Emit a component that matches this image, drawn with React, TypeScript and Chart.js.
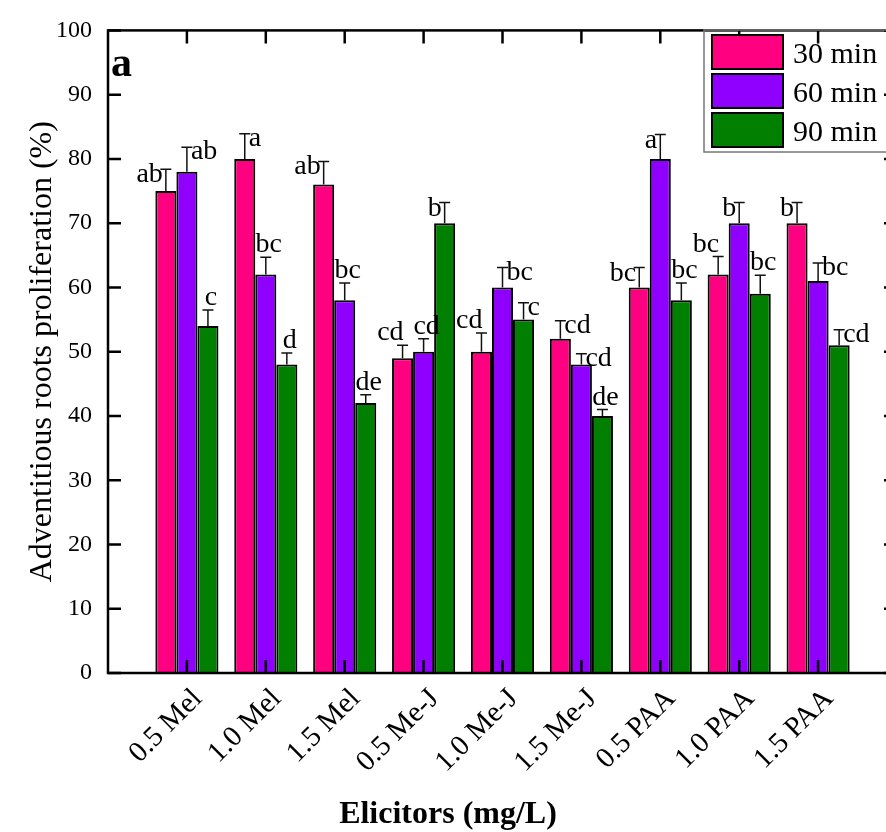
import React, { useEffect, useRef } from 'react';
import { Chart, registerables } from 'chart.js';

Chart.register(...registerables);

// ---------- data ----------
const categories = ['0.5 Mel', '1.0 Mel', '1.5 Mel', '0.5 Me-J', '1.0 Me-J', '1.5 Me-J', '0.5 PAA', '1.0 PAA', '1.5 PAA'];
const seriesNames = ['30 min', '60 min', '90 min'];
const values30 = [75, 80, 76, 49, 50, 52, 60, 62, 70];
const values60 = [78, 62, 58, 50, 60, 48, 80, 70, 61];
const values90 = [54, 48, 42, 70, 55, 40, 58, 59, 51];
const errors30 = [3.4, 3.9, 3.6, 2.0, 2.9, 2.8, 3.1, 2.8, 3.2];
const errors60 = [3.8, 2.7, 2.7, 2.0, 3.1, 1.7, 3.8, 3.2, 2.8];
const errors90 = [2.5, 1.8, 1.3, 3.2, 2.6, 1.0, 2.7, 2.9, 2.4];
const letters30 = ['ab', 'a', 'ab', 'cd', 'cd', 'cd', 'bc', 'bc', 'b'];
const letters60 = ['ab', 'bc', 'bc', 'cd', 'bc', 'cd', 'a', 'b', 'bc'];
const letters90 = ['c', 'd', 'de', 'b', 'c', 'de', 'bc', 'bc', 'cd'];
const yTickValues = [0, 10, 20, 30, 40, 50, 60, 70, 80, 90, 100];
const yAxisTitle = 'Adventitious roots proliferation (%)';
const xAxisTitle = 'Elicitors (mg/L)';
const panelLabel = 'a';

// ---------- styling (placement of the letter labels relative to the error-bar cap) ----------
const place30 = ['L', 'R', 'L', 'TL', 'TL', 'R', 'L', 'TL', 'L'];
const place60 = ['R', 'T', 'T', 'T', 'R', 'R', 'L', 'L', 'R'];
const place90 = ['T', 'T', 'T', 'L', 'R', 'T', 'T', 'T', 'R'];
const colors = ['#FF0080', '#8F00FF', '#007F00'];
const FONT = "'Liberation Serif', 'Times New Roman', serif";

const allValues = [values30, values60, values90];
const allErrors = [errors30, errors60, errors90];
const allLetters = [letters30, letters60, letters90];
const allPlace = [place30, place60, place90];

const paddedLabels = ['', ...categories, ''];
const pad = (arr: number[]) => [null, ...arr, null];

const decor = {
  id: 'decor',
  afterDatasetsDraw(chart: any) {
    const { ctx, scales } = chart;
    const y = scales.y;
    ctx.save();
    chart.data.datasets.forEach((ds: any, i: number) => {
      const meta = chart.getDatasetMeta(i);
      categories.forEach((_c, j) => {
        const bar = meta.data[j + 1];
        if (!bar) return;
        const v = allValues[i][j];
        const e = allErrors[i][j];
        const top = y.getPixelForValue(v);
        const cap = y.getPixelForValue(v + e);
        ctx.strokeStyle = '#111';
        ctx.lineWidth = 1.5;
        ctx.beginPath();
        ctx.moveTo(bar.x, top);
        ctx.lineTo(bar.x, cap);
        ctx.moveTo(bar.x - 5.5, cap);
        ctx.lineTo(bar.x + 5.5, cap);
        ctx.stroke();
        const p = allPlace[i][j];
        ctx.fillStyle = '#000';
        ctx.font = `28px ${FONT}`;
        ctx.textBaseline = 'alphabetic';
        let tx = bar.x;
        let ty = cap;
        if (p === 'L') { ctx.textAlign = 'right'; tx = bar.x - 3; ty = cap + 13; }
        else if (p === 'R') { ctx.textAlign = 'left'; tx = bar.x + 4; ty = cap + 12; }
        else if (p === 'TL') { ctx.textAlign = 'right'; tx = bar.x + 1; ty = cap - 5; }
        else { ctx.textAlign = 'center'; tx = bar.x + 3; ty = cap - 5; }
        ctx.fillText(allLetters[i][j], tx, ty);
      });
    });
    ctx.restore();
  },
  afterDraw(chart: any) {
    const { ctx, chartArea: a, scales } = chart;
    const { x, y } = scales;
    ctx.save();
    ctx.strokeStyle = '#000';
    ctx.lineWidth = 2.5;
    ctx.strokeRect(a.left, a.top, a.right - a.left, a.bottom - a.top);
    ctx.beginPath();
    yTickValues.forEach((t) => {
      const py = y.getPixelForValue(t);
      ctx.moveTo(a.left, py);
      ctx.lineTo(a.left + 13, py);
      ctx.moveTo(a.right, py);
      ctx.lineTo(a.right - 13, py);
    });
    categories.forEach((_c, j) => {
      const px = x.getPixelForValue(j + 1);
      ctx.moveTo(px, a.bottom);
      ctx.lineTo(px, a.bottom - 13);
      ctx.moveTo(px, a.top);
      ctx.lineTo(px, a.top + 13);
    });
    ctx.stroke();
    ctx.fillStyle = '#000';
    ctx.font = `bold 42px ${FONT}`;
    ctx.textAlign = 'left';
    ctx.textBaseline = 'alphabetic';
    ctx.fillText(panelLabel, a.left + 3, 76);
    ctx.font = `bold 32px ${FONT}`;
    ctx.textAlign = 'center';
    ctx.fillText(xAxisTitle, 448, 823);
    const lx = 704;
    const ly = 30;
    ctx.strokeStyle = '#777';
    ctx.lineWidth = 1.5;
    ctx.strokeRect(lx, ly, 400, 122);
    chart.data.datasets.forEach((ds: any, i: number) => {
      const sy = 35 + i * 39;
      ctx.fillStyle = ds.backgroundColor;
      ctx.fillRect(712, sy, 71, 34);
      ctx.strokeStyle = '#000';
      ctx.lineWidth = 2;
      ctx.strokeRect(712, sy, 71, 34);
      ctx.fillStyle = '#000';
      ctx.font = `30px ${FONT}`;
      ctx.textAlign = 'left';
      ctx.textBaseline = 'alphabetic';
      ctx.fillText(ds.label, 793, sy + 28);
    });
    ctx.restore();
  },
};

export default function App() {
  const ref = useRef<HTMLCanvasElement>(null);
  useEffect(() => {
    Chart.defaults.font.family = FONT;
    Chart.defaults.color = '#000';
    const chart = new Chart(ref.current as HTMLCanvasElement, {
      type: 'bar',
      data: {
        labels: paddedLabels,
        datasets: seriesNames.map((name, i) => ({
          label: name,
          data: pad(allValues[i]),
          backgroundColor: colors[i],
          borderColor: '#000',
          borderWidth: 2,
          barPercentage: 1,
          categoryPercentage: 0.8,
        })),
      },
      options: {
        animation: false,
        responsive: false,
        devicePixelRatio: 1,
        layout: { padding: { left: 0, top: 26, right: 43, bottom: 0 } },
        plugins: {
          legend: { display: false },
          tooltip: { enabled: false },
          title: { display: false },
        },
        scales: {
          x: {
            type: 'category',
            offset: false,
            grid: { display: false, drawTicks: false },
            border: { display: false },
            ticks: {
              autoSkip: false,
              minRotation: 45,
              maxRotation: 45,
              padding: 9,
              labelOffset: 11,
              font: { size: 29, family: FONT },
              color: '#000',
            },
            afterFit: (s: any) => { s.height = 159; },
          },
          y: {
            min: 0,
            max: 100,
            grid: { display: false, drawTicks: false },
            border: { display: false },
            ticks: {
              stepSize: 10,
              padding: 16,
              font: { size: 24, family: FONT },
              color: '#000',
            },
            title: {
              display: true,
              text: yAxisTitle,
              font: { size: 32, family: FONT, lineHeight: 1 },
              padding: { top: 27, bottom: 0 },
              color: '#000',
            },
            afterFit: (s: any) => { s.width = 108; },
          },
        },
      },
      plugins: [decor],
    });
    return () => chart.destroy();
  }, []);
  return (
    <div style={{ position: 'fixed', left: 0, top: 0, width: 886, height: 832, overflow: 'hidden', background: '#fff' }}>
      <div style={{ width: 940, height: 832 }}>
        <canvas ref={ref} width={940} height={832} style={{ display: 'block' }} />
      </div>
    </div>
  );
}
